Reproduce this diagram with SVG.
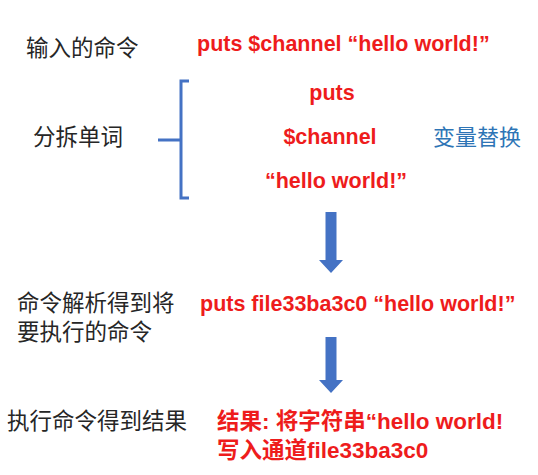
<svg xmlns="http://www.w3.org/2000/svg" width="538" height="475" viewBox="0 0 538 475">
<style>
.lbl{font-family:"Noto Sans CJK SC","Liberation Sans",sans-serif;font-size:22.5px;fill:#262626}
.red{font-family:"Liberation Sans","Noto Sans CJK SC",sans-serif;font-weight:bold;font-size:21.5px;fill:#EE1C1C}
.red2{font-size:22.5px}
.blue{font-family:"Noto Sans CJK SC",sans-serif;font-size:22px;fill:#2E75B6}
.br{fill:none;stroke:#4472C4;stroke-width:3}
.arr{fill:#4472C4}
</style>
<rect width="538" height="475" fill="#fff"/>
<g id="n-input">
<text class="lbl" x="26" y="56">输入的命令</text>
<text class="red" x="197" y="51">puts $channel “hello world!”</text>
</g>
<g id="n-split">
<text class="lbl" x="33" y="145">分拆单词</text>
<text class="red" x="332" y="100" text-anchor="middle">puts</text>
<text class="red" x="330" y="144" text-anchor="middle">$channel</text>
<text class="red" x="336" y="188" text-anchor="middle">“hello world!”</text>
<text class="blue" x="433" y="145">变量替换</text>
</g>
<g id="n-parse">
<text class="lbl" x="17" y="311">命令解析得到将</text>
<text class="lbl" x="17" y="340">要执行的命令</text>
<text class="red" x="200" y="311">puts file33ba3c0 “hello world!”</text>
</g>
<g id="n-exec">
<text class="lbl" x="7" y="429">执行命令得到结果</text>
<text class="red red2" x="217" y="429">结果: 将字符串“hello world!</text>
<text class="red red2" x="217" y="458">写入通道file33ba3c0</text>
</g>
<g id="connectors">
<path class="br" d="M189,81 H181 V198 H189 M158,140 H181"/>
<path class="arr" d="M325.5,212 H336.5 V260 H343 L331,273 L319,260 H325.5 Z"/>
<path class="arr" d="M325.5,337 H336.5 V380 H343 L331,393 L319,380 H325.5 Z"/>
</g>
</svg>
